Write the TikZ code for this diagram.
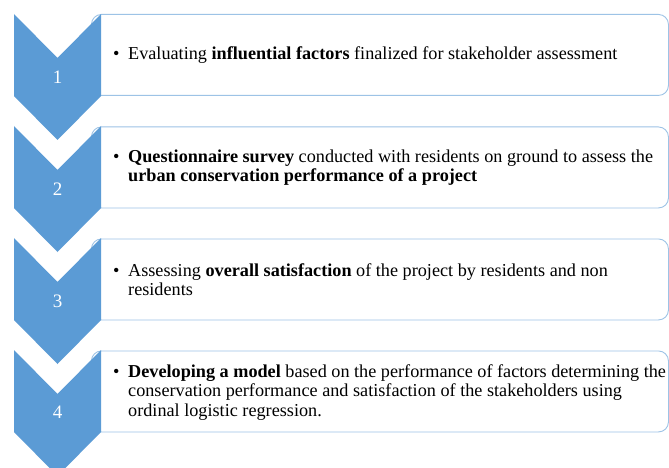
\documentclass[tikz,border=0pt]{standalone}
\usepackage{fontspec}
\setmainfont{Liberation Serif}
\definecolor{chevblue}{RGB}{91,155,213}
\definecolor{boxline}{RGB}{157,195,230}
\newcommand\bulitem[1]{\makebox[15pt][l]{\textbullet}\parbox[t]{540pt}{\raggedright #1}}
\begin{document}
\begin{tikzpicture}
      [x=1pt, y=-1pt,
       stepbox/.style={draw=boxline, line width=0.9pt, fill=white, rounded corners=10pt,
         anchor=north west, minimum width=577pt, minimum height=81pt, inner sep=0pt},
       steptext/.style={anchor=west, inner sep=0pt,
         font=\fontsize{18.2}{19.5}\selectfont},
       stepnum/.style={text=white, inner sep=0pt, font=\fontsize{19}{20}\selectfont},
       chevron/.style={fill=chevblue}]
      \clip (0,0) rectangle (669,468);
      \fill[white] (0,0) rectangle (669,468);

      \node[stepbox] (box1) at (91,14) {};
      \node[stepbox] (box2) at (91,126.5) {};
      \node[stepbox] (box3) at (91,238.5) {};
      \node[stepbox] (box4) at (91,350.5) {};

      \foreach \t in {14,126,238,350}
        \fill[chevron] (14,\t) -- (57.5,\t+44) -- (101,\t) -- (101,\t+82)
          -- (57.5,\t+126) -- (14,\t+82) -- cycle;

      \node[stepnum] (num1) at (57.5,77) {1};
      \node[stepnum] (num2) at (57.5,189) {2};
      \node[stepnum] (num3) at (57.5,301) {3};
      \node[stepnum] (num4) at (57.5,412) {4};

      \node[steptext] (txt1) at ([xshift=22pt]box1.west)
        {\bulitem{Evaluating \textbf{influential factors} finalized for stakeholder assessment}};
      \node[steptext] (txt2) at ([xshift=22pt]box2.west)
        {\bulitem{\textbf{Questionnaire survey} conducted with residents on ground to assess the\\
         \textbf{urban conservation performance of a project}}};
      \node[steptext] (txt3) at ([xshift=22pt]box3.west)
        {\bulitem{Assessing \textbf{overall satisfaction} of the project by residents and non\\
         residents}};
      \node[steptext] (txt4) at ([xshift=22pt,yshift=-1pt]box4.west)
        {\bulitem{\textbf{Developing a model} based on the performance of factors determining the\\
         conservation performance and satisfaction of the stakeholders using\\
         ordinal logistic regression.}};
   \end{tikzpicture}
\end{document}
